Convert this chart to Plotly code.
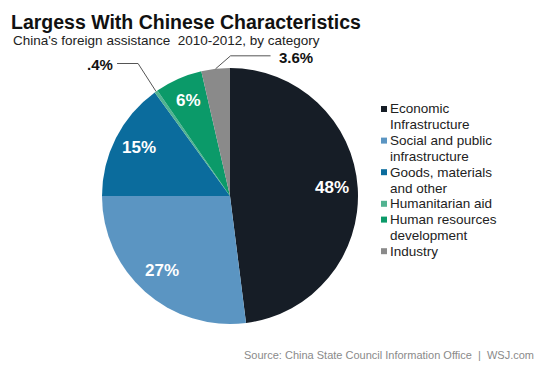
import math
import plotly.graph_objects as go

categories = ["Economic Infrastructure", "Social and public infrastructure",
              "Goods, materials and other", "Humanitarian aid",
              "Human resources development", "Industry"]
legend_lines = [["Economic", "Infrastructure"], ["Social and public", "infrastructure"],
                ["Goods, materials", "and other"], ["Humanitarian aid"],
                ["Human resources", "development"], ["Industry"]]
values = [48, 27, 15, 0.4, 6, 3.6]
inside_labels = ["48%", "27%", "15%", "", "6%", ""]
outside_labels = ["", "", "", ".4%", "", "3.6%"]
colors = ["#161d26", "#5b95c2", "#0b6c9d", "#52b391", "#0b9a69", "#8a8a8a"]

W, H = 553, 369
cx, cy, r = 230, 196, 128
FONT = "Liberation Sans, Arial"

fig = go.Figure()
fig.add_trace(go.Pie(
    labels=categories, values=values, sort=False, direction="clockwise", rotation=0,
    marker=dict(colors=colors, line=dict(width=0)),
    textinfo="none",
    domain=dict(x=[(cx - r) / W, (cx + r) / W], y=[(H - cy - r) / H, (H - cy + r) / H]),
    hoverinfo="label+percent", showlegend=False,
))

shapes, annotations = [], []
total = sum(values)
cum = 0
for v, lab_in, lab_out in zip(values, inside_labels, outside_labels):
    mid = (cum + v / 2) / total * 2 * math.pi
    cum += v
    if lab_in:
        lx = cx + 0.8 * r * math.sin(mid)
        ly = cy - 0.8 * r * math.cos(mid) - 2
        annotations.append(dict(x=lx / W, y=1 - ly / H, xref="paper", yref="paper",
                                text=f"<b>{lab_in}</b>", showarrow=False,
                                xanchor="center", yanchor="middle",
                                font=dict(family=FONT, size=17, color="white")))
    if not lab_out:
        continue
    ex = cx + r * math.sin(mid)
    ey = cy - r * math.cos(mid)
    if math.sin(mid) < -0.3:
        kx, ky = ex - 18, ey - 28
        hx = kx - 21
        pts = [(ex, ey), (kx, ky), (hx, ky)]
        annotations.append(dict(x=(hx - 2) / W, y=1 - (ky + 1) / H, xref="paper", yref="paper",
                                text=f"<b>{lab_out}</b>", showarrow=False,
                                xanchor="right", yanchor="middle",
                                font=dict(family=FONT, size=15, color="#111")))
    else:
        kx, ky = ex + 15, ey - 13
        hx = kx + 40
        pts = [(ex, ey), (kx, ky), (hx, ky)]
        annotations.append(dict(x=(hx + 6) / W, y=1 - (ky + 2) / H, xref="paper", yref="paper",
                                text=f"<b>{lab_out}</b>", showarrow=False,
                                xanchor="left", yanchor="middle",
                                font=dict(family=FONT, size=15, color="#111")))
    path = "M " + " L ".join(f"{x / W},{1 - y / H}" for x, y in pts)
    shapes.append(dict(type="path", path=path, xref="paper", yref="paper",
                       line=dict(color="#555", width=1)))

# manual legend (tight line spacing like the original)
lx0, ly0, pitch = 388, 109, 15.8
line_idx = 0
for lines, col in zip(legend_lines, colors):
    y = ly0 + pitch * line_idx
    shapes.append(dict(type="rect", xref="paper", yref="paper",
                       x0=381 / W, x1=387 / W, y0=1 - (y - 3) / H, y1=1 - (y + 3) / H,
                       fillcolor=col, line=dict(width=0)))
    for ln in lines:
        yy = ly0 + pitch * line_idx
        annotations.append(dict(x=lx0 / W, y=1 - yy / H, xref="paper", yref="paper",
                                text=ln, showarrow=False, xanchor="left", yanchor="middle",
                                font=dict(family=FONT, size=13.5, color="#222")))
        line_idx += 1

annotations += [
    dict(x=9 / W, y=1 - 9 / H, xref="paper", yref="paper", xanchor="left", yanchor="top",
         text="<b>Largess With Chinese Characteristics</b>", showarrow=False,
         font=dict(family=FONT, size=19.5, color="#111")),
    dict(x=11 / W, y=1 - 31 / H, xref="paper", yref="paper", xanchor="left", yanchor="top",
         text="China's foreign assistance  2010-2012, by category", showarrow=False,
         font=dict(family=FONT, size=13.5, color="#222")),
    dict(x=536 / W, y=1 - 355 / H, xref="paper", yref="paper", xanchor="right", yanchor="middle",
         text="Source: China State Council Information Office  |  WSJ.com", showarrow=False,
         font=dict(family=FONT, size=11, color="#8a8a8a")),
]

fig.update_layout(
    width=W, height=H, margin=dict(l=0, r=0, t=0, b=0),
    paper_bgcolor="white", plot_bgcolor="white",
    showlegend=False,
    shapes=shapes, annotations=annotations,
)

fig.write_html("out.html", config={"displayModeBar": False},
               post_script="document.body.style.margin='0';")
